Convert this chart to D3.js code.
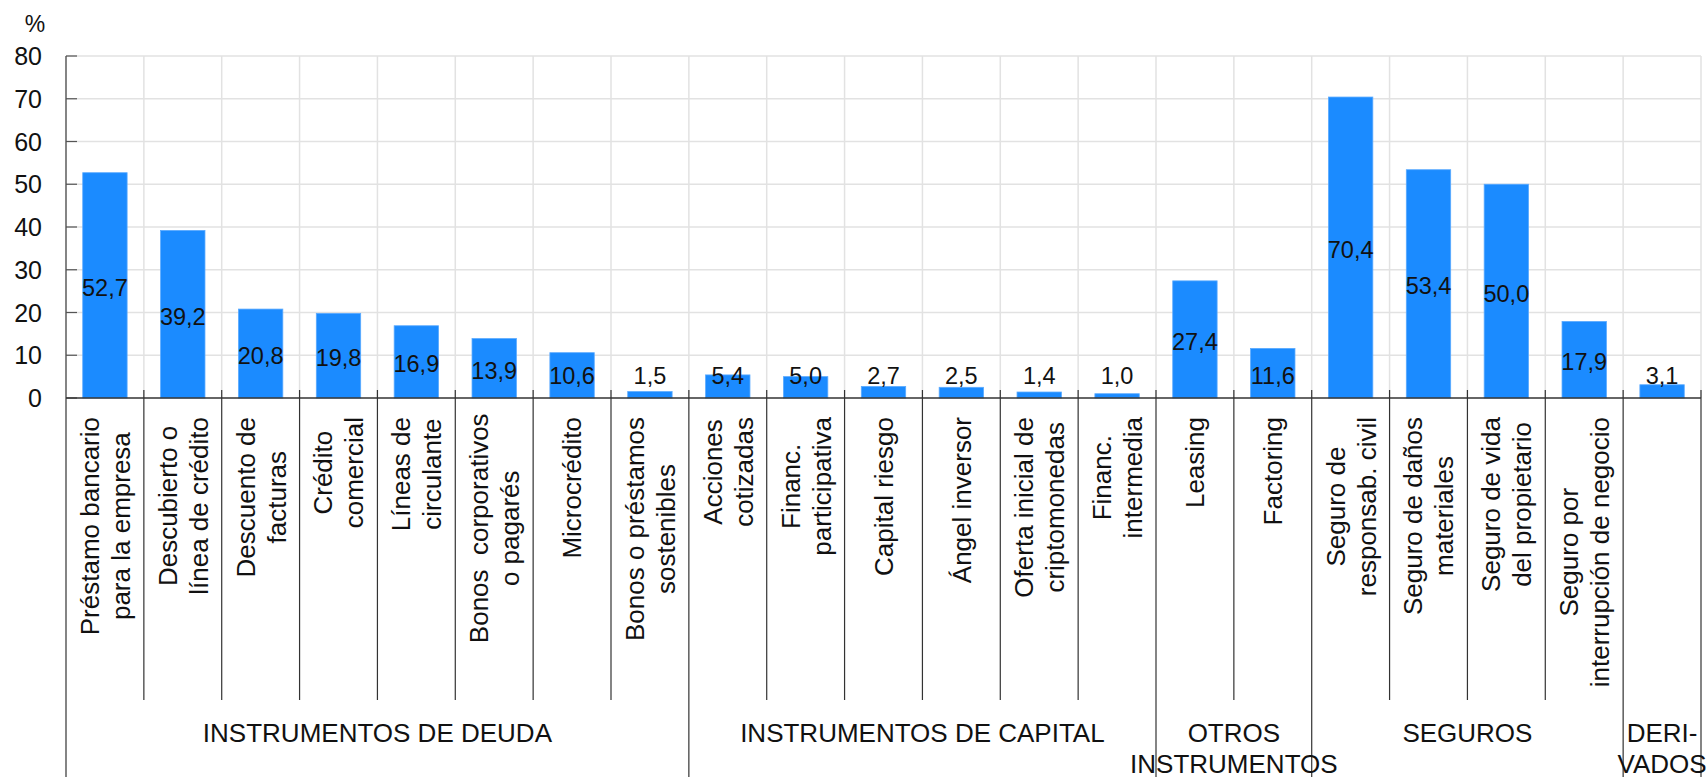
<!DOCTYPE html>
<html>
<head>
<meta charset="utf-8">
<script src="https://cdn.jsdelivr.net/npm/d3@7"></script>
<style>
  html, body { margin: 0; padding: 0; background: #fff; }
  svg { display: block; font-family: "Liberation Sans", Arial, Helvetica, sans-serif; }
</style>
</head>
<body>
<svg id="chart" width="1708" height="777"></svg>
<script>
const categories = [
  "Préstamo bancario\npara la empresa",
  "Descubierto o\nlínea de crédito",
  "Descuento de\nfacturas",
  "Crédito\ncomercial",
  "Líneas de\ncirculante",
  "Bonos  corporativos\no pagarés",
  "Microcrédito",
  "Bonos o préstamos\nsostenibles",
  "Acciones\ncotizadas",
  "Financ.\nparticipativa",
  "Capital riesgo",
  "Ángel inversor",
  "Oferta inicial de\ncriptomonedas",
  "Financ.\nintermedia",
  "Leasing",
  "Factoring",
  "Seguro de\nresponsab. civil",
  "Seguro de daños\nmateriales",
  "Seguro de vida\ndel propietario",
  "Seguro por\ninterrupción de negocio",
  ""
];
const values = [52.7, 39.2, 20.8, 19.8, 16.9, 13.9, 10.6, 1.5, 5.4, 5.0, 2.7, 2.5, 1.4, 1.0, 27.4, 11.6, 70.4, 53.4, 50.0, 17.9, 3.1];
const groupNames = ["INSTRUMENTOS DE DEUDA", "INSTRUMENTOS DE CAPITAL", "OTROS\nINSTRUMENTOS", "SEGUROS", "DERI-\nVADOS"];
const groupSizes = [8, 6, 2, 4, 1];
const yTicks = [0, 10, 20, 30, 40, 50, 60, 70, 80];
const yUnit = "%";

(function () {
const svg = d3.select("#chart");
const pLeft = 66, pRight = 1701, pTop = 56, zeroY = 398;
const idx = d3.range(values.length);

const x = d3.scaleBand().domain(idx).range([pLeft, pRight]).paddingInner(0.43).paddingOuter(0.215);
const step = x.step();
const y = d3.scaleLinear().domain([0, 80]).range([zeroY, pTop]);
const fmt = v => d3.format(".1f")(v).replace(".", ",");

// horizontal gridlines
svg.append("g").selectAll("line").data(yTicks.filter(t => t > 0)).join("line")
  .attr("x1", pLeft).attr("x2", pRight)
  .attr("y1", d => y(d)).attr("y2", d => y(d))
  .attr("stroke", "#e2e2e2").attr("stroke-width", 1.5);

// vertical gridlines (plot area)
svg.append("g").selectAll("line").data(d3.range(1, values.length + 1)).join("line")
  .attr("x1", d => pLeft + d * step).attr("x2", d => pLeft + d * step)
  .attr("y1", pTop).attr("y2", zeroY)
  .attr("stroke", "#e2e2e2").attr("stroke-width", 1.5);

// bars
svg.append("g").selectAll("rect").data(values).join("rect")
  .attr("x", (d, i) => x(i)).attr("width", x.bandwidth())
  .attr("y", d => y(d)).attr("height", d => zeroY - y(d))
  .attr("fill", "#1b8bff").attr("stroke", "#5aaaff").attr("stroke-width", 0.8);

// value labels
svg.append("g").selectAll("text").data(values).join("text")
  .attr("x", (d, i) => x(i) + x.bandwidth() / 2)
  .attr("y", d => Math.min(y(d / 2) + 2, 376))
  .attr("dy", "0.36em")
  .attr("text-anchor", "middle")
  .attr("font-size", 23.5)
  .attr("fill", "#111")
  .text(d => fmt(d));

// y axis line + inward ticks
const axisCol = "#333";
svg.append("line").attr("x1", pLeft).attr("x2", pLeft).attr("y1", pTop).attr("y2", 777)
  .attr("stroke", axisCol).attr("stroke-width", 1.2);
svg.append("g").selectAll("line").data(yTicks).join("line")
  .attr("x1", pLeft).attr("x2", pLeft + 11)
  .attr("y1", d => y(d)).attr("y2", d => y(d))
  .attr("stroke", "#555").attr("stroke-width", 1.2);
svg.append("g").selectAll("text").data(yTicks).join("text")
  .attr("x", 42).attr("y", d => y(d)).attr("dy", "0.36em")
  .attr("text-anchor", "end").attr("font-size", 25)
  .attr("fill", "#111").text(d => d);
svg.append("text").attr("x", 35).attr("y", 32).attr("text-anchor", "middle")
  .attr("font-size", 23).attr("fill", "#111").text(yUnit);

// x axis line
svg.append("line").attr("x1", pLeft).attr("x2", pRight).attr("y1", zeroY).attr("y2", zeroY)
  .attr("stroke", axisCol).attr("stroke-width", 1.4);

// group boundaries
const groupBounds = [0];
groupSizes.forEach((s, i) => groupBounds.push(groupBounds[i] + s));
const isGroupBound = b => groupBounds.includes(b);

// category dividers
svg.append("g").selectAll("line").data(d3.range(1, values.length + 1)).join("line")
  .attr("x1", d => pLeft + d * step).attr("x2", d => pLeft + d * step)
  .attr("y1", 390).attr("y2", d => isGroupBound(d) ? 777 : 700)
  .attr("stroke", axisCol).attr("stroke-width", 1.2);

// category labels (rotated, block top-aligned at y=417, lines centered)
const catFont = 26, lineH = 31, catTop = 417;
const catG = svg.append("g");
categories.forEach((c, i) => {
  if (!c) return;
  const lines = c.split("\n");
  const cx = x(i) + x.bandwidth() / 2;
  const n = lines.length;
  const tmp = catG.append("text").attr("font-size", catFont);
  let maxW = 0;
  lines.forEach(l => { tmp.text(l); maxW = Math.max(maxW, tmp.node().getComputedTextLength()); });
  tmp.remove();
  const midY = catTop + maxW / 2;
  lines.forEach((l, j) => {
    const bx = cx + (j - (n - 1) / 2) * lineH + 0.36 * catFont;
    catG.append("text")
      .attr("transform", `translate(${bx},${midY}) rotate(-90)`)
      .attr("text-anchor", "middle")
      .attr("font-size", catFont)
      .attr("fill", "#111")
      .style("white-space", "pre")
      .text(l);
  });
});

// group labels
const grpG = svg.append("g");
groupNames.forEach((g, i) => {
  const x0 = pLeft + groupBounds[i] * step, x1 = pLeft + groupBounds[i + 1] * step;
  const lines = g.split("\n");
  lines.forEach((l, j) => {
    grpG.append("text")
      .attr("x", (x0 + x1) / 2).attr("y", 742 + j * 31)
      .attr("text-anchor", "middle")
      .attr("font-size", 26)
      .attr("fill", "#111")
      .text(l);
  });
});
})();
</script>
</body>
</html>
